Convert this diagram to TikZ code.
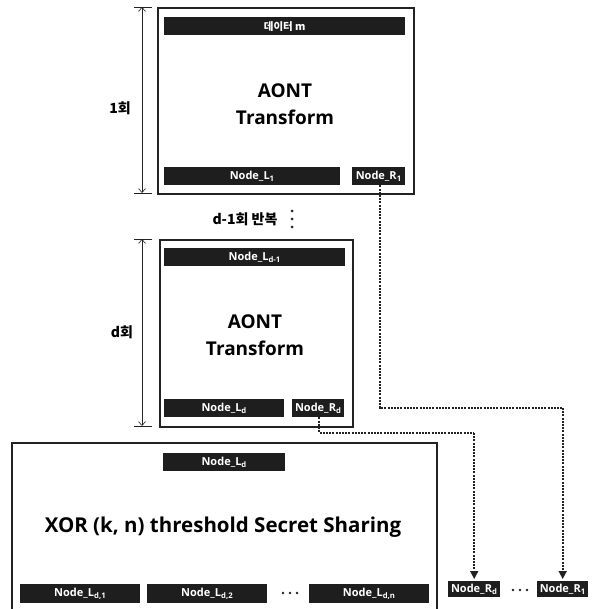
\documentclass[tikz,border=0pt]{standalone}
\usepackage{fontspec}
\setmainfont{Open Sans}
\newfontfamily\kr{Noto Sans CJK KR}
\usetikzlibrary{arrows.meta}
\definecolor{barfill}{HTML}{1E1E1E}
\definecolor{linecol}{HTML}{222222}
\tikzset{
  frame/.style={draw=linecol, line width=1.6pt, fill=none},
  bar/.style={fill=barfill, draw=none, anchor=north west, inner sep=0pt,
    text=white, font=\fontsize{11}{12}\selectfont\bfseries, minimum height=18pt},
  rbar/.style={bar, minimum height=16pt},
  big/.style={font=\fontsize{19}{27}\selectfont\bfseries, align=center, inner sep=0pt},
  side/.style={font=\kr\fontsize{14}{16}\selectfont\bfseries, inner sep=0pt},
  dim/.style={draw=linecol, line width=0.6pt, {Straight Barb[length=4pt,width=7pt]}-{Straight Barb[length=4pt,width=7pt]}},
  tick/.style={draw=linecol, line width=0.6pt},
  conn/.style={draw=linecol, line width=1.6pt, dash pattern=on 2pt off 1.2pt, -{Triangle[length=8pt,width=8pt]}},
  connb/.style={draw=linecol, line width=1.6pt, dash pattern=on 2pt off 1.2pt},
  dotc/.style={fill=linecol, draw=none, circle, inner sep=0pt, minimum size=3pt}
}
\begin{document}
\begin{tikzpicture}[x=1pt,y=-1pt]
\useasboundingbox[fill=white] (0,0) rectangle (592,609);
% ---- block 1
\node[frame, anchor=north west, minimum width=256pt, minimum height=186pt, inner sep=0pt] (b1) at (157,7) {};
\node[bar, minimum width=241pt, font=\kr\fontsize{10.5}{11}\selectfont\bfseries] (m) at (164,17) {데이터 m};
\node[big] (t1) at (285,104) {AONT\\Transform};
\node[bar, minimum width=176pt] (l1) at (164,167) {Node\_L\textsubscript{1}};
\node[bar, minimum width=53pt] (r1) at (352,167) {Node\_R\textsubscript{1}};
% dimension 1
\coordinate (d1a) at (142,7);
\coordinate (d1b) at (142,193);
\draw[tick] (134,7) -- (152,7);
\draw[tick] (134,193) -- (152,193);
\draw[dim] (d1a) -- (d1b);
\node[side] (s1) at (120,108) {1회};
% repeat
\node[side] (rep) at (245,219) {d-1회 반복};
\node[dotc] (v1) at (292,211) {};
\node[dotc] (v2) at (292,219) {};
\node[dotc] (v3) at (292,227) {};
% ---- block 2
\node[frame, anchor=north west, minimum width=193pt, minimum height=187pt, inner sep=0pt] (b2) at (159,239) {};
\node[bar, minimum width=181pt] (ld1) at (164,248) {Node\_L\textsubscript{d-1}};
\node[big] (t2) at (255,335) {AONT\\Transform};
\node[bar, minimum width=120pt] (ld) at (164,399) {Node\_L\textsubscript{d}};
\node[bar, minimum width=52pt] (rd) at (292,399) {Node\_R\textsubscript{d}};
\coordinate (d2a) at (142,239);
\coordinate (d2b) at (142,426);
\draw[tick] (134,239) -- (152,239);
\draw[tick] (134,426) -- (152,426);
\draw[dim] (d2a) -- (d2b);
\node[side] (s2) at (122,332) {d회};
% ---- XOR block
\draw[frame] (12,612) |- (437,443) -- (437,612);
\node[bar, minimum width=122pt] (ldx) at (163,453) {Node\_L\textsubscript{d}};
\node[font=\fontsize{20.5}{24}\selectfont\bfseries, inner sep=0pt] (xor) at (223,527) {XOR (k, n) threshold Secret Sharing};
\node[bar, minimum width=120pt, minimum height=19pt] (x1) at (20,584) {Node\_L\textsubscript{d,1}};
\node[bar, minimum width=120pt, minimum height=19pt] (x2) at (147,584) {Node\_L\textsubscript{d,2}};
\node[dotc, minimum size=2.6pt] (h1) at (283,593) {};
\node[dotc, minimum size=2.6pt] (h2) at (290,593) {};
\node[dotc, minimum size=2.6pt] (h3) at (297,593) {};
\node[bar, minimum width=120pt, minimum height=19pt] (xn) at (309,584) {Node\_L\textsubscript{d,n}};
% ---- R outputs
\node[rbar, minimum width=52pt] (ord) at (448,581) {Node\_R\textsubscript{d}};
\node[dotc, minimum size=2.6pt] (g1) at (513,590) {};
\node[dotc, minimum size=2.6pt] (g2) at (520,590) {};
\node[dotc, minimum size=2.6pt] (g3) at (527,590) {};
\node[rbar, minimum width=51pt] (or1) at (537,581) {Node\_R\textsubscript{1}};
% ---- connectors
\coordinate (k1) at (or1.north |- 0,408);
\coordinate (k2) at (ord.north |- 0,433);
\draw[connb] ([xshift=1pt]r1.south) |- (k1);
\draw[conn, shorten >=2pt] (k1) -- (or1.north);
\draw[connb] ([xshift=1pt]rd.south) |- (k2);
\draw[conn, shorten >=2pt] (k2) -- (ord.north);
\end{tikzpicture}
\end{document}
